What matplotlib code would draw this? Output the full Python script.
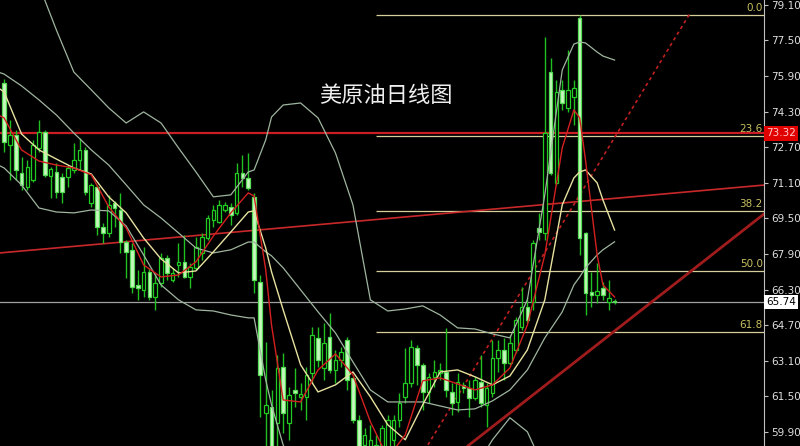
import matplotlib
matplotlib.use("Agg")
import matplotlib.pyplot as plt
import matplotlib.transforms as mtransforms

# daily candles (price)
opens = [75.59, 72.80, 73.25, 71.55, 70.92, 71.23, 72.67, 73.39, 71.41, 71.59,
         71.37, 71.37, 71.68, 72.13, 72.58, 70.20, 70.92, 69.12, 68.85, 70.20,
         69.88, 68.44, 68.09, 66.51, 66.29, 67.10, 65.97, 66.60, 67.73, 66.74,
         67.41, 67.55, 66.87, 67.28, 67.95, 68.62, 69.43, 69.34, 69.88, 70.02,
         69.75, 71.55, 71.32, 70.47, 66.65, 60.76, 61.03, 60.31, 62.83, 60.31,
         61.79, 61.48, 61.48, 62.56, 64.13, 62.78, 64.18, 62.69, 63.14, 64.04,
         62.33, 60.45, 59.32, 59.19, 59.10, 59.28, 59.10, 59.55, 60.45, 61.48,
         62.11, 63.68, 62.92, 61.70, 62.38, 62.56, 62.60, 61.70, 61.25, 62.02,
         61.88, 61.43, 62.15, 61.12, 61.66, 63.23, 63.59, 63.01, 63.59, 64.62,
         65.52, 65.75, 69.07, 68.85, 76.08, 71.10, 75.28, 74.47, 74.96, 78.51,
         68.85, 66.20, 66.06, 66.38, 65.75, 65.79]
highs = [75.77, 73.93, 73.48, 72.26, 72.13, 73.03, 73.93, 73.48, 71.82, 72.00,
         71.55, 71.91, 72.89, 73.12, 72.71, 71.10, 71.01, 69.30, 70.56, 70.29,
         70.65, 68.53, 68.40, 67.19, 68.22, 67.28, 67.05, 67.95, 67.86, 67.28,
         68.40, 68.76, 67.50, 68.67, 68.85, 69.66, 70.11, 70.33, 70.24, 70.20,
         72.00, 72.35, 72.44, 70.65, 66.96, 63.95, 61.79, 63.37, 63.46, 61.93,
         62.78, 62.11, 62.83, 64.62, 64.62, 64.80, 65.25, 63.59, 63.73, 64.18,
         62.38, 60.67, 60.09, 60.22, 59.77, 60.22, 60.67, 60.67, 61.66, 63.68,
         64.04, 63.82, 63.01, 62.56, 63.14, 63.01, 64.58, 62.11, 62.56, 62.15,
         62.24, 62.38, 63.37, 62.11, 64.04, 64.04, 64.13, 64.27, 65.07, 66.42,
         65.97, 68.53, 69.75, 77.66, 76.71, 75.72, 75.72, 77.07, 75.72, 78.65,
         68.89, 67.10, 67.50, 66.65, 66.74, 65.88]
lows = [72.49, 71.23, 71.23, 70.78, 70.78, 71.14, 72.49, 71.37, 70.42, 70.42,
        70.20, 70.92, 71.55, 71.68, 70.56, 70.02, 68.76, 68.40, 68.67, 69.12,
        67.95, 66.83, 66.15, 65.84, 65.97, 65.84, 65.39, 66.42, 66.74, 66.65,
        66.87, 66.83, 66.38, 67.19, 67.64, 68.53, 69.12, 69.30, 69.79, 69.21,
        69.66, 70.92, 70.78, 66.15, 60.58, 59.10, 58.65, 59.10, 59.86, 59.55,
        61.03, 60.89, 60.45, 62.11, 62.83, 62.24, 62.56, 62.11, 62.83, 61.79,
        60.31, 58.65, 58.42, 58.20, 58.20, 58.65, 58.65, 59.28, 60.13, 61.21,
        61.93, 62.02, 60.89, 61.21, 61.93, 62.24, 61.48, 60.67, 60.80, 61.66,
        60.58, 61.34, 61.03, 60.13, 61.48, 62.60, 62.24, 62.92, 63.46, 64.49,
        64.80, 65.39, 68.53, 68.53, 71.46, 71.01, 74.38, 74.29, 73.70, 67.86,
        65.16, 65.52, 65.70, 65.84, 65.39, 65.66]
closes = [72.94, 73.25, 71.68, 71.01, 71.82, 72.80, 73.39, 71.46, 71.73, 70.69,
          70.69, 71.77, 72.13, 72.58, 70.69, 71.01, 69.12, 68.85, 70.11, 69.97,
          68.44, 68.00, 66.42, 66.38, 67.10, 65.97, 66.60, 67.73, 67.05, 67.05,
          67.55, 66.87, 67.32, 68.22, 68.67, 69.52, 69.88, 70.11, 70.11, 69.66,
          71.55, 71.32, 70.87, 66.74, 62.47, 61.12, 59.10, 62.78, 60.76, 61.57,
          61.66, 61.61, 62.47, 64.27, 63.14, 63.91, 62.69, 63.14, 63.50, 62.24,
          60.45, 59.10, 59.77, 59.55, 59.32, 60.09, 60.45, 60.45, 61.21, 62.11,
          63.73, 62.92, 61.70, 62.38, 62.60, 62.69, 61.79, 61.21, 62.15, 61.88,
          61.43, 62.24, 61.21, 61.88, 63.23, 63.59, 63.01, 63.91, 64.94, 65.52,
          64.94, 68.40, 68.89, 73.34, 71.55, 75.19, 74.69, 75.28, 75.37, 68.62,
          66.15, 66.06, 66.24, 66.06, 65.93, 65.74]

# indicator lines, sampled at these candle numbers
line_idx = [-1, 0, 3, 6, 9, 12, 15, 18, 21, 24, 27, 30, 33, 36, 39, 42, 43, 45,
            46, 48, 51, 54, 57, 60, 63, 66, 69, 72, 75, 78, 81, 84, 87, 90, 93,
            96, 98, 99, 100, 102, 103, 105]
ma_fast = [74.15, 74.02, 72.58, 72.08, 71.90, 71.77, 71.46, 70.02, 69.07, 67.41,
           66.87, 66.96, 67.55, 68.71, 69.75, 70.65, 70.51, 67.19, 64.71, 61.34,
           61.25, 62.69, 63.41, 62.47, 60.36, 58.74, 59.77, 62.20, 62.33, 62.06,
           61.79, 62.02, 62.78, 64.71, 67.86, 72.67, 74.38, 74.02, 72.13, 67.86,
           66.51, 65.97]
ma_slow = [75.37, 75.19, 73.30, 72.58, 72.17, 71.77, 71.50, 70.47, 69.75, 68.62,
           67.68, 67.05, 67.14, 68.00, 68.89, 69.79, 69.84, 68.17, 67.10, 65.39,
           62.92, 61.70, 62.02, 62.60, 61.48, 60.22, 59.55, 61.12, 62.60, 62.69,
           62.38, 62.02, 62.42, 63.59, 65.84, 70.11, 71.32, 71.59, 71.68, 71.10,
           70.33, 68.98]
bb_mid = [76.08, 75.99, 75.46, 74.83, 74.15, 73.34, 72.58, 71.90, 71.01, 70.11,
          69.52, 68.85, 68.17, 67.95, 68.09, 68.44, 68.44, 68.00, 67.82, 67.28,
          66.29, 65.30, 64.35, 63.05, 61.79, 61.25, 61.25, 61.25, 61.07, 60.89,
          60.94, 61.30, 61.79, 62.69, 64.13, 65.30, 66.51, 66.87, 67.28, 67.86,
          68.09, 68.45]
bb_up = [83.59, 83.14, 81.57, 79.99, 77.97, 76.08, 75.28, 74.47, 73.79, 74.29,
         73.79, 72.67, 71.59, 70.47, 70.56, 71.59, 71.68, 73.03, 74.06, 74.60,
         74.69, 74.02, 72.44, 70.11, 65.84, 65.34, 65.43, 65.57, 65.16, 64.58,
         64.53, 64.31, 64.13, 65.84, 70.56, 76.17, 77.34, 77.43, 77.39, 76.98,
         76.80, 76.62]
bb_low = [71.90, 71.77, 71.01, 69.97, 69.79, 69.75, 69.88, 69.84, 69.16, 67.86,
          66.51, 65.84, 65.39, 65.34, 65.16, 65.03, 65.03, 62.24, 61.12, 59.32,
          57.75, 56.85, 56.40, 56.40, 56.63, 57.08, 57.52, 57.84, 57.52, 57.75,
          58.29, 59.55, 60.54, 59.91, 58.20, 56.63, 55.73, 55.50, 55.37, 55.05,
          54.96, 54.83]

# fibonacci retracement
fib_labels = ["0.0", "23.6", "38.2", "50.0", "61.8"]
fib_prices = [78.65, 73.21, 69.84, 67.13, 64.41]
fib_start = 64

# trend lines (candle number, price)
trend_x, trend_y = [-0.7, 130.7], [67.95, 71.0]
dotted_x, dotted_y = [72.9, 117.9], [59.32, 78.69]
support_x, support_y = [79.8, 130.7], [59.28, 69.70]

red_level = 73.32
last_price = 65.74
yticks = [79.10, 77.50, 75.90, 74.30, 72.70, 71.10, 69.50, 67.90, 66.30,
          64.70, 63.10, 61.50, 59.90]

fig = plt.figure(figsize=(8, 4.46), dpi=100, facecolor="black")
ax = fig.add_axes([0, 0, 764 / 800, 1])
ax.set_facecolor("black")
ax.set_xlim(-0.7, 130.7)
ax.set_ylim(59.27, 79.32)

# candles
for i in range(len(opens)):
    o, h, l, c = opens[i], highs[i], lows[i], closes[i]
    ax.vlines(i, l, h, color="#20c020", lw=1, zorder=3)
    lo = min(o, c)
    hgt = max(abs(c - o), 0.04)
    if c >= o:
        ax.bar(i, hgt, 0.62, bottom=lo, facecolor="black",
               edgecolor="#22cc22", lw=0.9, zorder=4)
    else:
        ax.bar(i, hgt, 0.62, bottom=lo, facecolor="#c8f7c0",
               edgecolor="#55dd55", lw=0.9, zorder=4)

# indicators
band_col = "#9fb59f"
for band in (bb_up, bb_mid, bb_low):
    ax.plot(line_idx, band, color=band_col, lw=0.9, zorder=5,
            solid_joinstyle="round")
ax.plot(line_idx, ma_slow, color="#e8e2a0", lw=1.0, zorder=5,
        solid_joinstyle="round")
ax.plot(line_idx, ma_fast, color="#d42020", lw=1.0, zorder=5,
        solid_joinstyle="round")

# horizontal levels
ax.axhline(red_level, color="#c81e24", lw=1.6, zorder=2)
ax.axhline(last_price, color="#a0a0a0", lw=0.9, zorder=2)
for lab, pr in zip(fib_labels, fib_prices):
    ax.hlines(pr, fib_start, 130.7, color="#d6cf9a", lw=0.9, zorder=2)
    ax.text(130.5, pr + 0.08, lab, color="#c8c060", fontsize=7.5,
            ha="right", va="bottom", zorder=6)

# trend lines
ax.plot(trend_x, trend_y, color="#c8282a", lw=1.2, zorder=2)
ax.plot(dotted_x, dotted_y, color="#c02020", lw=1.2, ls=(0, (2, 2)), zorder=2)
ax.plot(support_x, support_y, color="#a01c1c", lw=2, zorder=2)

ax.text(0.505, 0.785, "美原油日线图", transform=ax.transAxes, color="#eeeeee",
        fontsize=16, ha="center", va="center",
        family=["Noto Sans CJK SC", "DejaVu Sans"])

# right price axis
for s in ["left", "top", "bottom"]:
    ax.spines[s].set_visible(False)
ax.spines["right"].set_color("#c0c0c0")
ax.set_xticks([])
ax.yaxis.tick_right()
ax.set_yticks(yticks)
ax.set_yticklabels(["%.2f" % t for t in yticks])
ax.tick_params(axis="y", colors="#c0c0c0", labelcolor="#e0e0e0",
               labelsize=7.5, length=3, pad=2)

trans = mtransforms.blended_transform_factory(ax.transAxes, ax.transData)
ax.text(1.003, red_level, "%.2f" % red_level, transform=trans, color="#ffc8c8",
        fontsize=7.5, ha="left", va="center", clip_on=False, zorder=7,
        bbox=dict(boxstyle="square,pad=0.2", fc="#e00000", ec="none"))
ax.text(1.003, last_price, "%.2f" % last_price, transform=trans, color="black",
        fontsize=7.5, ha="left", va="center", clip_on=False, zorder=7,
        bbox=dict(boxstyle="square,pad=0.2", fc="white", ec="none"))

fig.savefig("out.png", dpi=100, facecolor="black")
